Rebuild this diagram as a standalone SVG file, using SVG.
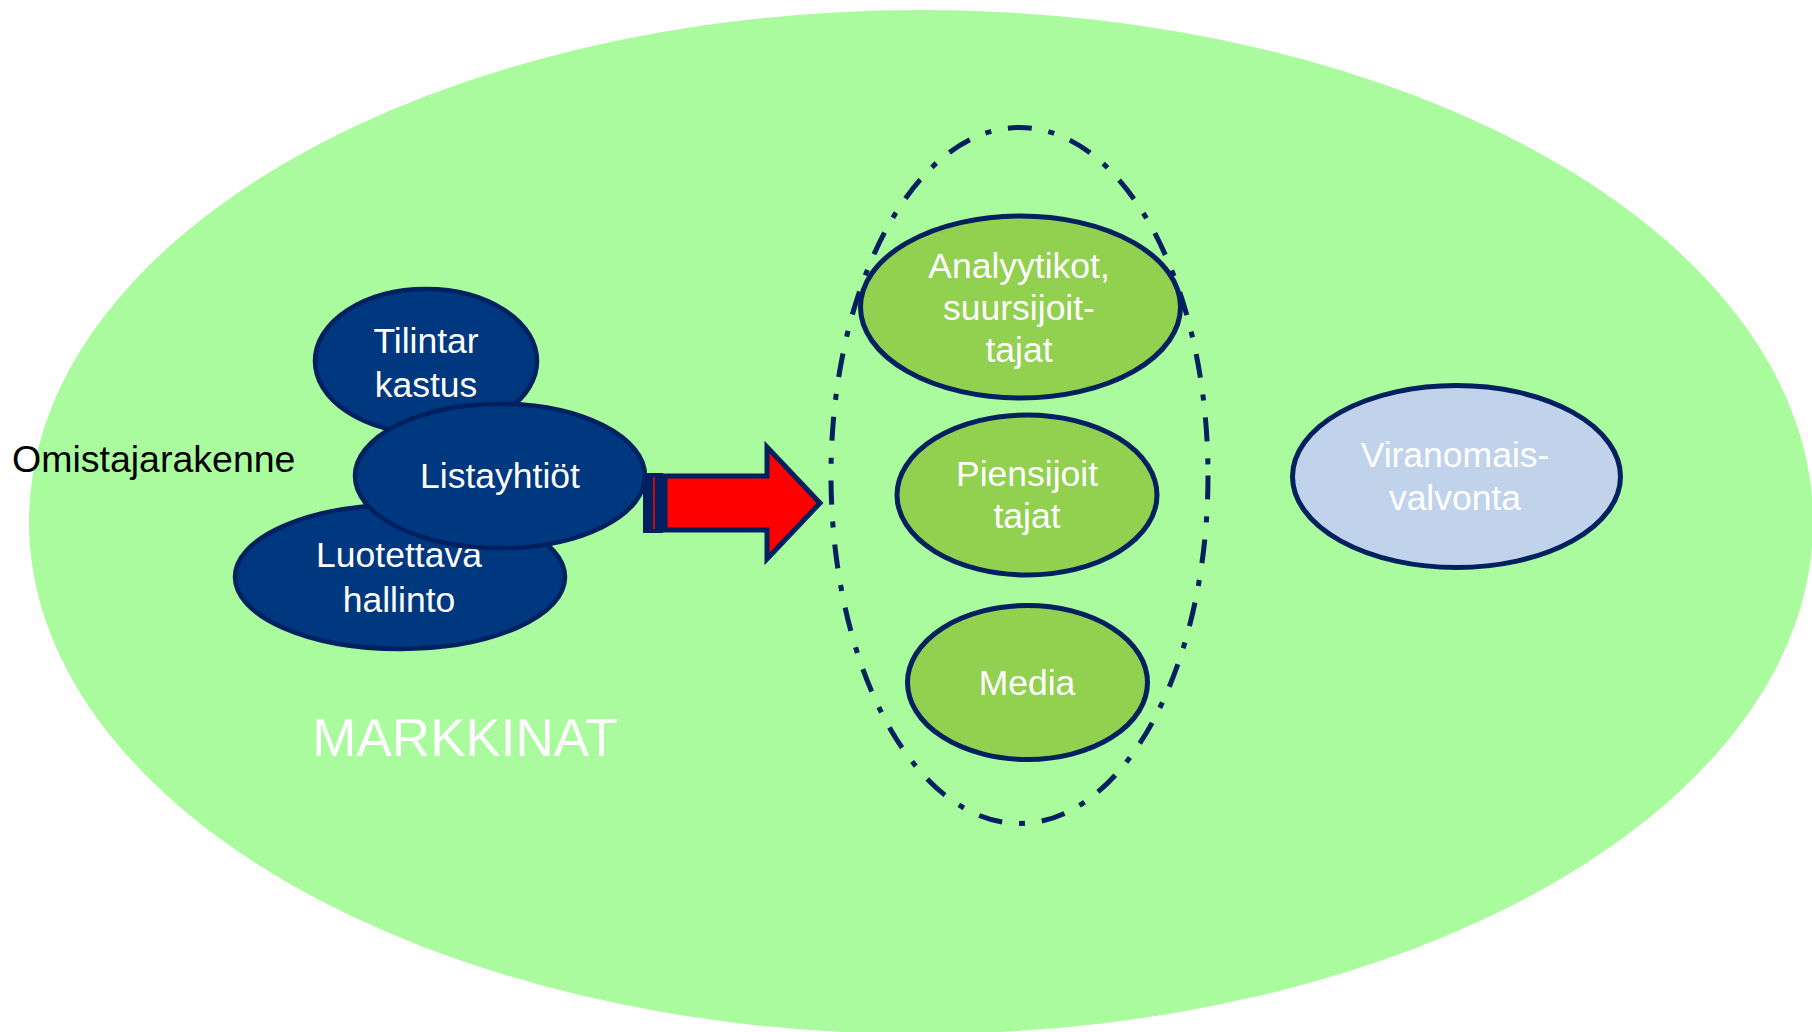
<svg xmlns="http://www.w3.org/2000/svg" width="1812" height="1032" viewBox="0 0 1812 1032">
  <style>
    text { font-family: "Liberation Sans", Arial, sans-serif; }
    .lbl { fill: #ffffff; font-size: 35.5px; text-anchor: middle; }
    .navy { fill: #00387f; stroke: #002060; stroke-width: 4.5; }
    .grn { fill: #92d050; stroke: #002060; stroke-width: 5; }
    .pale { fill: #c0d3eb; stroke: #002060; stroke-width: 5; }
  </style>

  <rect width="1812" height="1032" fill="#ffffff"/>

  <!-- market background -->
  <g id="markkinat">
    <ellipse cx="921" cy="522" rx="892" ry="512" fill="#aafa9e"/>
    <text x="465" y="756" fill="#ffffff" font-size="53" text-anchor="middle">MARKKINAT</text>
  </g>

  <text id="omistajarakenne" x="12" y="472" fill="#000000" font-size="37.5">Omistajarakenne</text>

  <!-- company cluster -->
  <g id="tilintarkastus">
    <ellipse class="navy" cx="426" cy="361" rx="111" ry="72"/>
    <text class="lbl" x="426" y="353">Tilintar</text>
    <text class="lbl" x="426" y="397">kastus</text>
  </g>
  <g id="luotettava-hallinto">
    <ellipse class="navy" cx="400" cy="577" rx="165" ry="72"/>
    <text class="lbl" x="399" y="567">Luotettava</text>
    <text class="lbl" x="399" y="612">hallinto</text>
  </g>
  <g id="listayhtiot">
    <ellipse class="navy" cx="500" cy="476" rx="145" ry="72"/>
    <text class="lbl" x="500" y="488">Listayhtiöt</text>
  </g>

  <!-- striped arrow towards the audience -->
  <g id="connectors">
    <rect x="643" y="473" width="20" height="60" fill="#002060"/>
    <rect x="653.2" y="477" width="1.6" height="52" fill="#ff0000"/>
    <path d="M665,476 L767,476 L767,447 L820,503 L767,559 L767,530 L665,530 Z" fill="#ff0000" stroke="#002060" stroke-width="5" stroke-linejoin="miter"/>
  </g>

  <!-- audience nodes -->
  <g id="analyytikot">
    <ellipse class="grn" cx="1020.5" cy="307" rx="160" ry="91"/>
    <text class="lbl" x="1019" y="278">Analyytikot,</text>
    <text class="lbl" x="1019" y="320">suursijoit-</text>
    <text class="lbl" x="1019" y="362">tajat</text>
  </g>
  <g id="piensijoittajat">
    <ellipse class="grn" cx="1027" cy="495" rx="130" ry="80"/>
    <text class="lbl" x="1027" y="486">Piensijoit</text>
    <text class="lbl" x="1027" y="528">tajat</text>
  </g>
  <g id="media">
    <ellipse class="grn" cx="1027.5" cy="682.5" rx="120" ry="77"/>
    <text class="lbl" x="1027" y="695">Media</text>
  </g>

  <!-- dash-dot grouping outline -->
  <g id="yleiso">
    <ellipse cx="1019.5" cy="475.5" rx="188.5" ry="348" fill="none" stroke="#002060" stroke-width="5" stroke-dasharray="24 17 6 17"/>
  </g>

  <g id="viranomaisvalvonta">
    <ellipse class="pale" cx="1456.5" cy="476.5" rx="164" ry="91"/>
    <text class="lbl" x="1455" y="467">Viranomais-</text>
    <text class="lbl" x="1455" y="510">valvonta</text>
  </g>
</svg>
